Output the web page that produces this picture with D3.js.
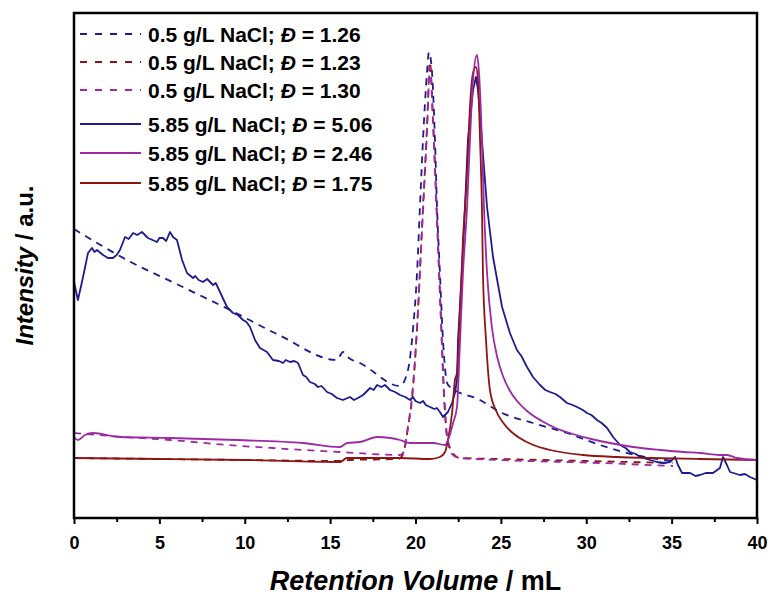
<!DOCTYPE html>
<html><head><meta charset="utf-8">
<script src="https://cdn.jsdelivr.net/npm/d3@7"></script>
<style>body{margin:0;background:#fff}svg{display:block}</style>
</head><body>
<svg id="chart" width="771" height="598"></svg>
<script>
// ---- data (x: retention volume in mL, y: intensity in a.u.) ----
const concentrations = ["0.5", "0.5", "0.5", "5.85", "5.85", "5.85"];
const dispersities = ["1.26", "1.23", "1.30", "5.06", "2.46", "1.75"];
const xMajorTicks = [0, 5, 10, 15, 20, 25, 30, 35, 40];
const xMinorTicks = [2.5, 7.5, 12.5, 17.5, 22.5, 27.5, 32.5, 37.5];

const lowSaltBlue = [[0,289],[3.1,258],[6,234],[9.14,208],[12,183],[15.4,158],[15.75,166],[16.1,160],[16.75,155],[19.09,132],[19.56,148],[19.85,188],[20.09,245],[20.26,311],[20.44,378],[20.67,445],[20.79,466],[20.97,445],[21.14,378],[21.26,311],[21.43,245],[21.61,178],[21.85,135],[22.02,131],[23.78,118],[24.95,106],[26.88,95],[28.87,85],[30.81,73],[33.15,62],[35.08,57]];
const lowSaltRed = [[0,60],[5,59],[10,58],[15.4,57],[16.2,58],[19.0,59],[19.27,64],[19.56,90],[19.80,120],[20.09,190],[20.38,290],[20.67,390],[20.85,456],[21.02,400],[21.26,300],[21.49,200],[21.67,125],[21.85,82],[22.14,66],[22.6,60],[25,59],[30,57],[35.08,55]];
const lowSaltPurple = [[0,85],[3,81],[5.62,78],[9,73],[11.6,70],[15.58,66],[19.09,63],[19.3,66],[19.56,92],[19.80,122],[20.09,190],[20.38,288],[20.67,385],[20.85,451],[21.02,398],[21.26,298],[21.49,198],[21.67,122],[21.85,80],[22.14,64],[22.6,60],[24.95,58],[30.81,55],[35.08,52]];
const highSaltBlue = [[0,236],[0.23,218],[0.53,241],[0.82,265],[1.05,270],[1.2,266],[1.35,268],[1.70,263],[1.99,260],[2.28,260],[2.5,263],[2.69,268],[2.99,281],[3.2,279],[3.46,285],[3.7,283],[3.98,286],[4.33,280],[4.6,278],[4.86,276],[5.0,280],[5.21,280],[5.4,277],[5.62,286],[5.80,281],[6.03,278],[6.33,258],[6.62,245],[6.97,240],[7.1,242],[7.3,238],[7.55,236],[7.8,239],[8.14,233],[8.3,235],[8.55,226],[8.96,211],[9.31,205],[9.6,203],[9.90,198],[10.1,196],[10.31,191],[10.60,178],[10.89,170],[11.1,168],[11.30,166],[11.65,158],[12.0,157],[12.24,155],[12.4,158],[12.65,156],[12.9,157],[13.12,155],[13.41,143],[13.6,141],[13.82,136],[14.1,134],[14.29,131],[14.5,132],[14.82,126],[15.1,124],[15.40,120],[15.75,118],[16.16,121],[16.4,118],[16.63,120],[16.93,123],[17.34,130],[17.55,128],[17.75,133],[18.0,131],[18.21,133],[18.51,128],[18.8,126],[19.09,123],[19.4,121],[19.68,118],[19.85,121],[20.0,117],[20.26,115],[20.45,117],[20.6,113],[20.85,111],[21.1,109],[21.25,110],[21.43,106],[21.61,101],[21.90,106],[22.14,115],[22.31,125],[22.43,138],[22.49,178],[22.72,245],[22.90,311],[23.07,378],[23.37,428],[23.54,441],[23.66,428],[23.89,378],[24.19,311],[24.54,261],[25.07,211],[25.53,185],[25.94,168],[26.2,162],[26.53,151],[26.88,141],[27.29,133],[27.6,128],[27.88,126],[28.2,124],[28.46,121],[28.87,115],[29.2,113],[29.46,111],[29.8,108],[30.04,105],[30.3,103],[30.63,98],[30.9,95],[31.22,90],[31.57,81],[31.98,73],[32.3,70],[32.56,66],[32.9,64],[33.15,61],[33.73,58],[34.14,56],[34.49,55],[34.90,56],[35.20,61],[35.37,53],[35.61,45],[36.08,45],[36.4,42],[36.66,43],[37.0,45],[37.42,45],[37.83,50],[38.01,61],[38.24,53],[38.42,46],[39.00,43],[39.3,44],[39.59,41],[40.00,38]];
const highSaltPurple = [[0,81],[0.23,78],[0.64,83],[1.11,85],[2.69,81],[5.62,80],[9.55,78],[13.41,75],[15.58,71],[15.99,75],[16.75,76],[17.75,81],[18.51,80],[19.09,78],[19.68,75],[20.44,75],[21.02,75],[21.73,73],[21.95,80],[22.2,95],[22.43,111],[22.61,178],[22.78,245],[23.02,311],[23.19,378],[23.37,438],[23.60,463],[23.72,445],[23.89,378],[24.01,311],[24.19,245],[24.48,190],[24.8,160],[25.1,143],[25.5,128],[26.0,116],[26.6,106],[27.4,97],[28.2,90],[29.2,84],[30.3,79],[31.39,75],[32.74,71],[34.32,68],[35.67,66],[36.66,65],[37.83,63],[38.24,63],[38.83,60],[40,58]];
const highSaltRed = [[0,60],[5,59],[10,58],[15.58,56],[15.99,60],[19.09,60],[20.85,59],[21.43,61],[21.73,66],[21.90,78],[22.14,105],[22.31,138],[22.43,145],[22.61,211],[22.78,278],[23.02,345],[23.19,411],[23.37,445],[23.54,451],[23.66,438],[23.78,378],[23.89,311],[23.95,245],[24.13,178],[24.36,128],[24.7,108],[25.1,96],[25.5,88],[26.1,80],[26.9,73],[27.88,68],[29.81,63],[31.80,61],[33.73,60],[36.66,59],[40,58]];

const seriesData = [lowSaltBlue, lowSaltRed, lowSaltPurple, highSaltBlue, highSaltPurple, highSaltRed];
const seriesColors = ["#1c1c90", "#8e1414", "#9c2aa4", "#1c1c90", "#9c2aa4", "#8e1414"];
const seriesDashed = [true, true, true, false, false, false];

// ---- layout ----
const mLeft = 74, mRight = 757, mTop = 13, mBottom = 518;
const svg = d3.select("#chart");
const x = d3.scaleLinear().domain([0, 40]).range([mLeft, mRight]);
const y = d3.scaleLinear().domain([0, 505]).range([mBottom, mTop]);

const plot = svg.append("g");
const drawOrder = [0, 1, 2, 3, 5, 4];
drawOrder.forEach(i => {
  const line = d3.line().x(d => x(d[0])).y(d => y(d[1]))
    .curve(i === 3 ? d3.curveLinear : d3.curveMonotoneX);
  plot.append("path").datum(seriesData[i])
    .attr("d", line).attr("fill", "none")
    .attr("stroke", seriesColors[i]).attr("stroke-width", 1.8)
    .attr("stroke-dasharray", seriesDashed[i] ? "7,6" : null)
    .attr("stroke-linejoin", "round");
});

// frame
svg.append("rect").attr("x", mLeft).attr("y", mTop)
  .attr("width", mRight - mLeft).attr("height", mBottom - mTop)
  .attr("fill", "none").attr("stroke", "#000").attr("stroke-width", 2.5);

// axes
const fontMain = "'Liberation Sans', Arial, Helvetica, sans-serif";
const gMajor = svg.append("g").attr("transform", `translate(0,${mBottom})`)
  .call(d3.axisBottom(x).tickValues(xMajorTicks).tickSize(6).tickSizeOuter(0).tickFormat(d3.format("d")));
gMajor.select(".domain").remove();
gMajor.selectAll(".tick line").attr("stroke", "#000").attr("stroke-width", 2);
gMajor.selectAll(".tick text").attr("y", 31).attr("dy", 0)
  .attr("font-family", fontMain).attr("font-weight", "bold").attr("font-size", 18).attr("fill", "#000");

const gMinor = svg.append("g").attr("transform", `translate(0,${mBottom})`)
  .call(d3.axisBottom(x).tickValues(xMinorTicks).tickSize(4).tickSizeOuter(0).tickFormat(""));
gMinor.select(".domain").remove();
gMinor.selectAll(".tick line").attr("stroke", "#000").attr("stroke-width", 2);

// axis titles
const xt = svg.append("text").attr("x", (mLeft + mRight) / 2).attr("y", 590)
  .attr("text-anchor", "middle").attr("font-family", fontMain)
  .attr("font-weight", "bold").attr("font-size", 27).attr("fill", "#000");
xt.append("tspan").attr("font-style", "italic").text("Retention Volume");
xt.append("tspan").text(" / mL");

const yt = svg.append("text")
  .attr("transform", `translate(33,${(mTop + mBottom) / 2}) rotate(-90)`)
  .attr("text-anchor", "middle").attr("font-family", fontMain)
  .attr("font-weight", "bold").attr("font-size", 24).attr("fill", "#000");
yt.append("tspan").attr("font-style", "italic").text("Intensity");
yt.append("tspan").text(" / a.u.");

// legend
const legendRows = [34, 62, 90, 124, 153, 183];
const leg = svg.append("g");
d3.range(6).forEach(i => {
  const ry = legendRows[i];
  leg.append("line").attr("x1", 80).attr("x2", 141).attr("y1", ry).attr("y2", ry)
    .attr("stroke", seriesColors[i]).attr("stroke-width", 1.8)
    .attr("stroke-dasharray", seriesDashed[i] ? "7,8" : null);
  const t = leg.append("text").attr("x", 148).attr("y", ry + 7.5)
    .attr("font-family", fontMain).attr("font-weight", "bold").attr("font-size", 21).attr("fill", "#000");
  t.append("tspan").text(`${concentrations[i]} g/L NaCl; `);
  t.append("tspan").attr("font-style", "italic").text("Đ");
  t.append("tspan").text(` = ${dispersities[i]}`);
});
</script>
</body></html>
